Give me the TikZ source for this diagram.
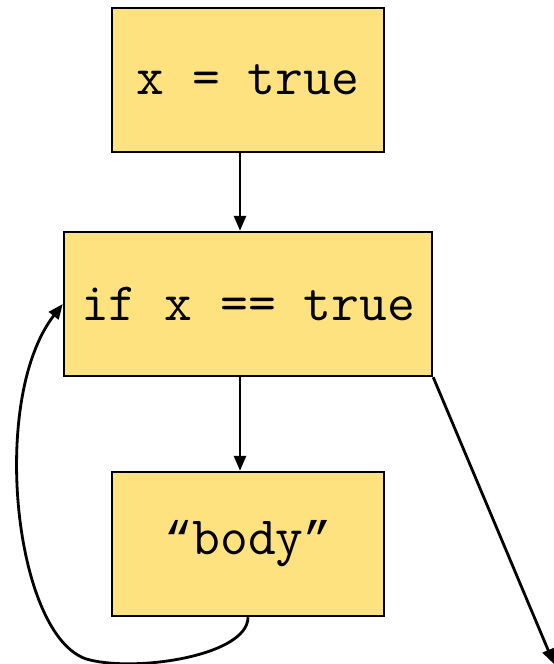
\documentclass[tikz,border=0pt]{standalone}
\usepackage{fontspec}
\newfontfamily\quotefont{Liberation Mono}
\usetikzlibrary{arrows.meta}
\definecolor{boxfill}{RGB}{255,226,128}
\begin{document}
\begin{tikzpicture}[x=1pt,y=-1pt,
  cbox/.style={draw=black,line width=2.4pt,fill=boxfill,inner sep=0pt,
    minimum height=144pt,font=\ttfamily\fontsize{54}{62}\selectfont},
  conn/.style={line width=2.8pt,-{Triangle[length=15pt,width=12pt]}}]
\useasboundingbox (0,0) rectangle (554,664);
\node[cbox,minimum width=272pt] (a) at (248,80) {x = true};
\node[cbox,minimum width=368pt] (b) at (248,304) {if x == true};
\node[cbox,minimum width=272pt] (c) at (248,544) {{\quotefont\fontsize{47}{56}\selectfont“}body{\quotefont\fontsize{47}{56}\selectfont”}};
\coordinate (out) at (554,664);
\draw[conn] (a.south -| 240,0) -- (b.north -| 240,0);
\draw[conn] (b.south -| 240,0) -- (c.north -| 240,0);
\draw[conn] (c.south) .. controls (248,655) and (140,672) .. (90,660)
  .. controls (15,643) and (-12,400) .. (b.west);
\draw[conn] (b.south east) -- (out);
\end{tikzpicture}
\end{document}
